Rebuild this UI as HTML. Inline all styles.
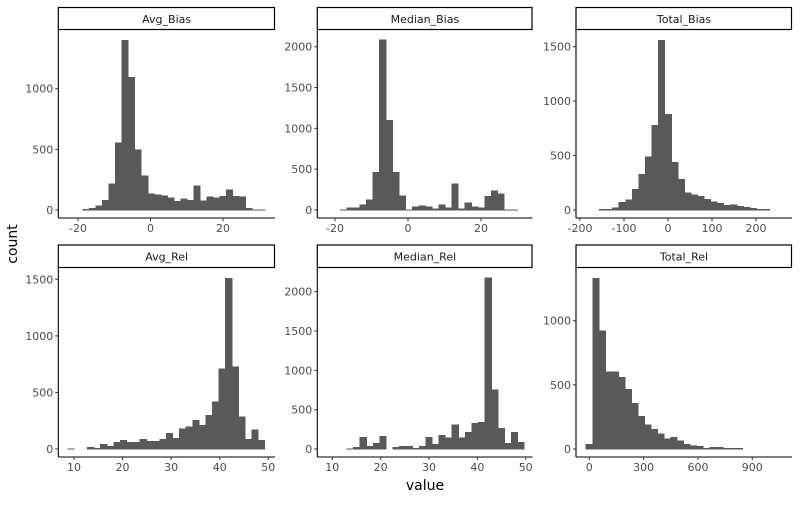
<!DOCTYPE html>
<html><head><meta charset="utf-8"><style>
body{margin:0;background:#fff;}
svg{font-family:"DejaVu Sans","Liberation Sans",sans-serif;}
</style></head><body>
<svg id="chart" width="800" height="500" viewBox="0 0 800 500" xmlns="http://www.w3.org/2000/svg">
<text x="0" y="0" transform="translate(17,244) rotate(-90)" text-anchor="middle" font-size="14" fill="#000">count</text>
<text x="425" y="490" text-anchor="middle" font-size="14" fill="#000">value</text>
</svg>
<script>
const panelNames = ["Avg_Bias","Median_Bias","Total_Bias","Avg_Rel","Median_Rel","Total_Rel"];
const binStarts = [-18.7, -18.6, -156, 8.7, 13.0, -18];
const binWidths = [1.8, 1.8, 14.9, 1.353, 1.36, 36];
const countsAvgBias = [5,16,33,82,214,552,1401,1096,495,280,135,126,118,99,71,91,82,198,74,107,99,115,165,115,107,16,3,3];
const countsMedianBias = [3,25,30,65,125,460,2085,1100,460,175,3,40,50,40,15,65,25,320,15,90,40,30,165,235,200,3,3];
const countsTotalBias = [5,5,20,70,95,190,330,490,780,1560,880,440,280,160,140,125,100,75,60,45,50,35,25,15,5,5];
const countsAvgRel = [3,0,0,13,5,42,25,60,78,60,60,85,68,68,85,140,95,180,195,255,210,300,415,710,1510,725,285,85,170,78];
const countsMedianRel = [5,20,150,35,75,160,0,20,35,35,10,35,150,60,175,140,305,140,215,325,340,2175,750,265,75,210,85];
const countsTotalRel = [35,1330,920,600,600,560,465,355,255,190,155,120,80,90,65,35,25,20,5,12,12,5,5,5];
const xTicks = [[-20,0,20],[-20,0,20],[-200,-100,0,100,200],[10,20,30,40,50],[10,20,30,40,50],[0,300,600,900]];
const yTicks = [[0,500,1000],[0,500,1000,1500,2000],[0,500,1000,1500],[0,500,1000,1500],[0,500,1000,1500,2000],[0,500,1000]];
const allCounts = [countsAvgBias,countsMedianBias,countsTotalBias,countsAvgRel,countsMedianRel,countsTotalRel];

const layout = [
 {l:58.3,r:275,t:30,b:218,st:7.5,x0:-20,px0:78,x1:20,px1:223,y0:210,y1v:1000,py1:88.7},
 {l:317.3,r:532.5,t:30,b:218,st:7.5,x0:-20,px0:335,x1:20,px1:481,y0:210,y1v:2000,py1:46.7},
 {l:576,r:792,t:30,b:218,st:7.5,x0:-200,px0:580,x1:200,px1:756,y0:210,y1v:1500,py1:46.7},
 {l:58.3,r:275,t:268,b:457,st:245,x0:10,px0:74,x1:50,px1:268.3,y0:449,y1v:1500,py1:279.3},
 {l:317.3,r:532.5,t:268,b:457,st:245,x0:10,px0:332.3,x1:50,px1:525.7,y0:449,y1v:2000,py1:291.7},
 {l:576,r:792,t:268,b:457,st:245,x0:0,px0:589.3,x1:900,px1:752.3,y0:449,y1v:1000,py1:320.7}
];
const NS="http://www.w3.org/2000/svg";
const svg=document.getElementById('chart');
function mk(tag,attrs,parent){const e=document.createElementNS(NS,tag);for(const k in attrs)e.setAttribute(k,attrs[k]);(parent||svg).appendChild(e);return e;}
panelNames.forEach((name,i)=>{
  const L=layout[i];
  const g=mk('g',{});
  
  
  const xs=v=>L.px0+(v-L.x0)*(L.px1-L.px0)/(L.x1-L.x0);
  const ys=v=>L.y0-v*(L.y0-L.py1)/L.y1v;
  const strip=mk('rect',{x:L.l,y:L.st,width:L.r-L.l-0.5,height:L.t-L.st-0.5,fill:'#fff',stroke:'#000','stroke-width':1.2},g);
  
  
  const st=mk('text',{x:(L.l+L.r)/2,y:(L.st+L.t)/2+4,'text-anchor':'middle','font-size':11,fill:'#1a1a1a'},g);
  st.textContent=name;
  
  
  allCounts[i].forEach((c,j)=>{
    const a=binStarts[i]+j*binWidths[i], b=a+binWidths[i];
    const y=ys(c);
    const r=mk('rect',{x:xs(a),y:y,width:xs(b)-xs(a),height:Math.max(0,L.y0-y),fill:'#595959',stroke:'#595959','stroke-width':0.6,'shape-rendering':'crispEdges'},g);
    
    
  });
  const ax=mk('line',{x1:L.l,y1:L.t,x2:L.l,y2:L.b,stroke:'#000','stroke-width':1.1},g);
  
  
  const bx=mk('line',{x1:L.l,y1:L.b,x2:L.r,y2:L.b,stroke:'#000','stroke-width':1.1},g);
  
  
  yTicks[i].forEach(v=>{
    const y=ys(v);
    mk('line',{x1:L.l-3,y1:y,x2:L.l,y2:y,stroke:'#333','stroke-width':1},g);
    const t=mk('text',{x:L.l-5,y:y+4,'text-anchor':'end','font-size':11,fill:'#4d4d4d'},g);
    t.textContent=v;
    
    
  });
  xTicks[i].forEach(v=>{
    const x=xs(v);
    mk('line',{x1:x,y1:L.b,x2:x,y2:L.b+3,stroke:'#333','stroke-width':1},g);
    const t=mk('text',{x:x,y:L.b+14,'text-anchor':'middle','font-size':11,fill:'#4d4d4d'},g);
    t.textContent=v;
    
    
  });
});
</script>
</body></html>
